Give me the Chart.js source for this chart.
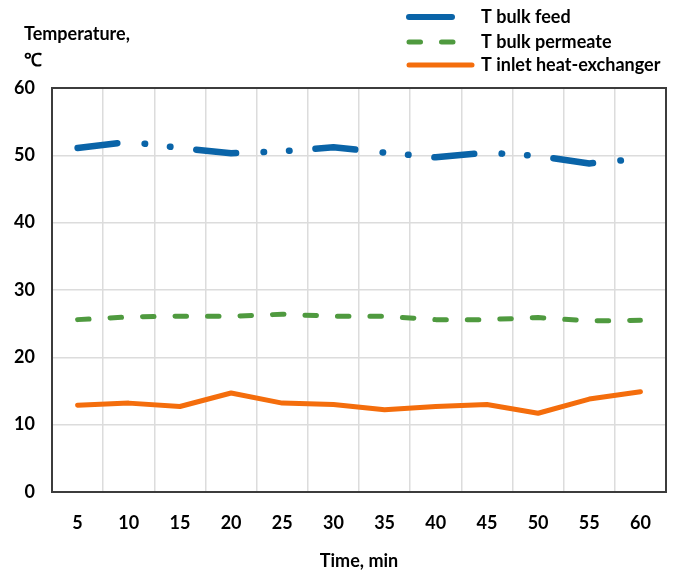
<!DOCTYPE html>
<html>
<head>
<meta charset="utf-8">
<script src="https://cdn.jsdelivr.net/npm/chart.js@4/dist/chart.umd.min.js"></script>
<style>
  html, body { margin: 0; padding: 0; background: #ffffff; }
  #wrap { width: 675px; height: 572px; position: relative; }
</style>
</head>
<body>
<div id="wrap"><canvas id="c" width="675" height="572"></canvas></div>
<script>
// ---- data ----
const timeLabels = ['5', '10', '15', '20', '25', '30', '35', '40', '45', '50', '55', '60'];
const bulkFeed = [51.1, 52.0, 51.1, 50.3, 50.6, 51.2, 50.4, 49.7, 50.4, 49.9, 48.8, 49.5];
const bulkPermeate = [25.6, 26.0, 26.1, 26.1, 26.4, 26.1, 26.1, 25.6, 25.6, 25.9, 25.4, 25.5];
const inletHeatExchanger = [12.9, 13.2, 12.7, 14.7, 13.2, 13.0, 12.2, 12.7, 13.0, 11.7, 13.8, 14.9];
const seriesNames = ['T bulk feed', 'T bulk permeate', 'T inlet heat-exchanger'];
const yTicks = [0, 10, 20, 30, 40, 50, 60];
const yTitleLines = ['Temperature,', '℃'];
const xTitle = 'Time, min';

const FONT = 'Lato, "Liberation Sans", Arial, sans-serif';
const BLUE = '#0a64a8', GREEN = '#4f9a3f', ORANGE = '#f46d0c';

const decorPlugin = {
  id: 'decor',
  afterDraw(chart) {
    const ctx = chart.ctx;
    const a = chart.chartArea;
    ctx.save();
    // plot box
    ctx.strokeStyle = '#3c3c3c';
    ctx.lineWidth = 2;
    ctx.setLineDash([]);
    ctx.strokeRect(a.left, a.top, a.right - a.left, a.bottom - a.top);
    // y title (horizontal, top-left)
    ctx.fillStyle = '#000';
    ctx.font = 'bold 18px ' + FONT;
    ctx.textAlign = 'left';
    ctx.textBaseline = 'middle';
    ctx.fillText(yTitleLines[0], 24, 34);
    ctx.fillText(yTitleLines[1], 24, 60);
    // legend
    const rows = [17, 42, 65];
    const lineEnds = [452, 455, 472];
    chart.data.datasets.forEach((ds, i) => {
      ctx.beginPath();
      ctx.strokeStyle = ds.borderColor;
      ctx.lineWidth = ds.legendWidth;
      ctx.lineCap = 'round';
      ctx.setLineDash(i === 0 ? [] : (ds.borderDash || []));
      ctx.moveTo(409, rows[i]);
      ctx.lineTo(lineEnds[i], rows[i]);
      ctx.stroke();
      ctx.setLineDash([]);
      ctx.fillStyle = '#000';
      ctx.fillText(ds.label, 481, rows[i]);
    });
    ctx.restore();
  }
};

new Chart(document.getElementById('c'), {
  type: 'line',
  data: {
    labels: timeLabels,
    datasets: [
      {
        label: seriesNames[0], data: bulkFeed,
        borderColor: BLUE, backgroundColor: BLUE,
        borderWidth: 6.5, legendWidth: 6,
        borderDash: [40, 27.5, 0.5, 25, 0.5, 26],
        borderCapStyle: 'round', borderJoinStyle: 'round',
        pointRadius: 0, tension: 0, fill: false
      },
      {
        label: seriesNames[1], data: bulkPermeate,
        borderColor: GREEN, backgroundColor: GREEN,
        borderWidth: 5, legendWidth: 5,
        borderDash: [11.5, 21],
        borderCapStyle: 'round', borderJoinStyle: 'round',
        pointRadius: 0, tension: 0, fill: false
      },
      {
        label: seriesNames[2], data: inletHeatExchanger,
        borderColor: ORANGE, backgroundColor: ORANGE,
        borderWidth: 5, legendWidth: 5,
        borderCapStyle: 'round', borderJoinStyle: 'round',
        pointRadius: 0, tension: 0, fill: false
      }
    ]
  },
  options: {
    responsive: false,
    animation: false,
    devicePixelRatio: 1,
    layout: { padding: { top: 88, right: 9, left: 0, bottom: 0 } },
    plugins: { legend: { display: false }, tooltip: { enabled: false } },
    scales: {
      x: {
        type: 'category',
        offset: true,
        grid: { offset: true, color: '#dcdcdc', lineWidth: 1.5, drawTicks: false },
        border: { display: false },
        ticks: { color: '#000', font: { family: FONT, size: 18, weight: 'bold' }, padding: 20, maxRotation: 0, autoSkip: false },
        title: { display: true, text: xTitle, color: '#000', font: { family: FONT, size: 18, weight: 'bold' }, padding: { top: 16, bottom: 0 } },
        afterFit(s) { s.height = 80; }
      },
      y: {
        min: 0, max: 60,
        afterBuildTicks(s) { s.ticks = yTicks.map(v => ({ value: v })); },
        grid: { color: '#dcdcdc', lineWidth: 1.5, drawTicks: false },
        border: { display: false },
        ticks: { color: '#000', font: { family: FONT, size: 18, weight: 'bold' }, padding: 17 },
        afterFit(s) { s.width = 52; }
      }
    }
  },
  plugins: [decorPlugin]
});
</script>
</body>
</html>
